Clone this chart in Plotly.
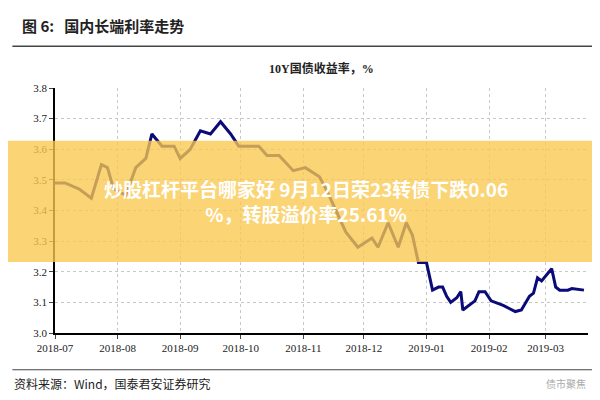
import plotly.graph_objects as go

dates = [
    "2018-07-01", "2018-07-06", "2018-07-13", "2018-07-19", "2018-07-24", "2018-07-27",
    "2018-07-30", "2018-08-05", "2018-08-10", "2018-08-15", "2018-08-18", "2018-08-23",
    "2018-08-29", "2018-09-01", "2018-09-06", "2018-09-11", "2018-09-16", "2018-09-21",
    "2018-09-26", "2018-09-30", "2018-10-10", "2018-10-14", "2018-10-20", "2018-10-24",
    "2018-10-27", "2018-11-02", "2018-11-09", "2018-11-13", "2018-11-17", "2018-11-22",
    "2018-11-28", "2018-12-05", "2018-12-08", "2018-12-13", "2018-12-18", "2018-12-22",
    "2018-12-25", "2018-12-28", "2019-01-01", "2019-01-04", "2019-01-07", "2019-01-09",
    "2019-01-11", "2019-01-13", "2019-01-16", "2019-01-18", "2019-01-19", "2019-01-22",
    "2019-01-25", "2019-01-27", "2019-01-30", "2019-02-02", "2019-02-08", "2019-02-14",
    "2019-02-17", "2019-02-21", "2019-02-23", "2019-02-25", "2019-02-27", "2019-03-04",
    "2019-03-06", "2019-03-08", "2019-03-12", "2019-03-14", "2019-03-20",
]
yields = [
    3.49, 3.49, 3.47, 3.44, 3.55, 3.54,
    3.47, 3.45, 3.54, 3.57, 3.65, 3.61,
    3.61, 3.57, 3.60, 3.66, 3.65, 3.69,
    3.65, 3.61, 3.61, 3.58, 3.58, 3.55,
    3.53, 3.54, 3.51, 3.46, 3.40, 3.33,
    3.28, 3.31, 3.28, 3.36, 3.28, 3.36,
    3.32, 3.23, 3.23, 3.14, 3.15, 3.15,
    3.12, 3.10, 3.115, 3.135, 3.075, 3.09,
    3.105, 3.135, 3.135, 3.105, 3.09, 3.07,
    3.075, 3.12, 3.13, 3.18, 3.17, 3.21,
    3.15, 3.14, 3.14, 3.145, 3.14,
]
tick_vals = ["2018-07-01", "2018-08-01", "2018-09-01", "2018-10-01", "2018-11-01",
             "2018-12-01", "2019-01-01", "2019-02-01", "2019-03-01"]
tick_text = ["2018-07", "2018-08", "2018-09", "2018-10", "2018-11",
             "2018-12", "2019-01", "2019-02", "2019-03"]

serif = "Liberation Serif, Noto Sans CJK SC"
cjk = "Noto Sans CJK SC"

fig = go.Figure()
fig.add_trace(go.Scatter(
    x=dates, y=yields, mode="lines",
    line=dict(color="#0a0a78", width=3),
    showlegend=False,
))

fig.update_xaxes(
    range=["2018-07-01", "2019-03-22"],
    tickmode="array", tickvals=tick_vals, ticktext=tick_text,
    showgrid=True, gridcolor="#c8c8c8", griddash="dot",
    showline=True, linecolor="black", linewidth=1.5,
    ticks="outside", ticklen=4,
    tickfont=dict(family=serif, size=11, color="#222"),
)
fig.update_yaxes(
    range=[3.0, 3.8], dtick=0.1, tickformat=".1f",
    showgrid=True, gridcolor="#c8c8c8", griddash="dot",
    showline=True, linecolor="black", linewidth=1.5,
    ticks="outside", ticklen=4, zeroline=False,
    tickfont=dict(family=serif, size=11, color="#222"),
)

fig.update_layout(
    width=600, height=400,
    margin=dict(l=47, r=20, t=80, b=75),
    paper_bgcolor="white", plot_bgcolor="white",
    shapes=[
        dict(type="line", xref="paper", yref="paper", x0=-0.08, x1=1.04,
             y0=1.17, y1=1.17, line=dict(color="#444", width=1.5)),
        dict(type="line", xref="paper", yref="paper", x0=-0.08, x1=1.04,
             y0=-0.15, y1=-0.15, line=dict(color="#444", width=1)),
        dict(type="rect", xref="paper", yref="paper", x0=-0.1, x1=1.05,
             y0=0.29, y1=0.785, fillcolor="rgba(250,200,80,0.78)",
             line=dict(width=0), layer="above"),
    ],
    annotations=[
        dict(text="<b>图 6:   国内长端利率走势</b>", xref="paper", yref="paper",
             x=-0.065, y=1.255, xanchor="left", yanchor="middle", showarrow=False,
             font=dict(family=cjk, size=15, color="#222")),
        dict(text="<b>10Y国债收益率，%</b>", xref="paper", yref="paper",
             x=0.5, y=1.08, xanchor="center", yanchor="middle", showarrow=False,
             font=dict(family=serif, size=12, color="#222")),
        dict(text="<b>炒股杠杆平台哪家好 9月12日荣23转债下跌0.06<br>%，转股溢价率25.61%</b>",
             xref="paper", yref="paper", x=0.47, y=0.54, xanchor="center",
             yanchor="middle", showarrow=False, align="center",
             font=dict(family=cjk, size=19, color="white")),
        dict(text="资料来源：Wind，国泰君安证券研究", xref="paper", yref="paper",
             x=-0.08, y=-0.205, xanchor="left", yanchor="middle", showarrow=False,
             font=dict(family=cjk, size=12, color="#222")),
        dict(text="债市聚焦", xref="paper", yref="paper",
             x=1.0, y=-0.205, xanchor="right", yanchor="middle", showarrow=False,
             font=dict(family=cjk, size=10, color="#aaa")),
    ],
)

fig.write_html("out.html")
